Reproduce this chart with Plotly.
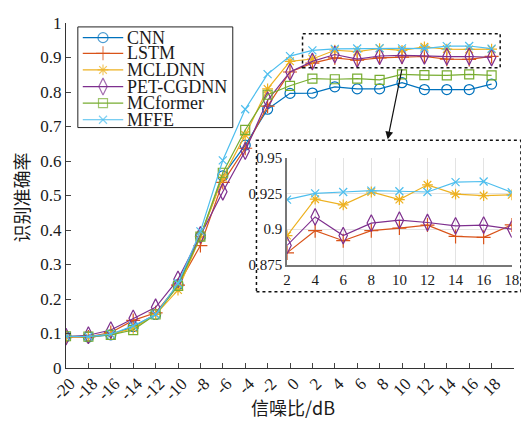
import plotly.graph_objects as go

snr = [-20, -18, -16, -14, -12, -10, -8, -6, -4, -2, 0, 2, 4, 6, 8, 10, 12, 14, 16, 18]

cnn = [0.091, 0.090, 0.096, 0.120, 0.155, 0.242, 0.381, 0.557, 0.646, 0.750, 0.796,
       0.797, 0.815, 0.809, 0.809, 0.827, 0.807, 0.807, 0.807, 0.823]
lstm = [0.090, 0.090, 0.103, 0.138, 0.160, 0.240, 0.355, 0.538, 0.637, 0.759, 0.858,
        0.8835, 0.899, 0.892, 0.899, 0.9008, 0.9029, 0.895, 0.8944, 0.903]
mcldnn = [0.090, 0.090, 0.098, 0.115, 0.155, 0.226, 0.381, 0.552, 0.675, 0.809, 0.889,
          0.8956, 0.921, 0.917, 0.926, 0.9207, 0.931, 0.9245, 0.9235, 0.924]
pet = [0.091, 0.095, 0.110, 0.144, 0.176, 0.257, 0.386, 0.511, 0.629, 0.776, 0.858,
       0.8887, 0.9086, 0.8956, 0.9043, 0.9063, 0.9047, 0.9024, 0.9029, 0.9001]
mcformer = [0.092, 0.091, 0.096, 0.110, 0.155, 0.238, 0.381, 0.566, 0.690, 0.792, 0.818,
            0.839, 0.837, 0.839, 0.835, 0.851, 0.849, 0.848, 0.851, 0.848]
mffe = [0.092, 0.091, 0.098, 0.122, 0.155, 0.245, 0.396, 0.602, 0.750, 0.852, 0.904,
        0.9207, 0.925, 0.926, 0.927, 0.9265, 0.926, 0.9329, 0.9333, 0.9258]

names = ["CNN", "LSTM", "MCLDNN", "PET-CGDNN", "MCformer", "MFFE"]
series = [cnn, lstm, mcldnn, pet, mcformer, mffe]
colors = ["#0072BD", "#D95319", "#EDB120", "#7E2F8E", "#77AC30", "#4DBEEE"]
symbols = ["circle-open", "cross-thin-open", "asterisk-open", "diamond-tall-open",
           "square-open", "x-thin-open"]
sizes = [10, 10, 9, 12, 9, 8]

main_xticks = list(range(-20, 20, 2))
main_xticklabels = [str(v) for v in main_xticks]
main_yticks = [0, 0.1, 0.2, 0.3, 0.4, 0.5, 0.6, 0.7, 0.8, 0.9, 1]
main_yticklabels = ["0", "0.1", "0.2", "0.3", "0.4", "0.5", "0.6", "0.7", "0.8", "0.9", "1"]
inset_xticks = [2, 4, 6, 8, 10, 12, 14, 16, 18]
inset_yticks = [0.875, 0.9, 0.925, 0.95]
inset_yticklabels = ["0.875", "0.9", "0.925", "0.95"]
inset_names = ["LSTM", "MCLDNN", "PET-CGDNN", "MFFE"]

serif = "Times New Roman, Liberation Serif, serif"
cjk = "Noto Sans CJK SC"
ink = "#1a1a1a"

# page geometry (pixels); the page body has an 8px default margin
BODY = 8
W, H = 529 - BODY, 423 - BODY
PL, PR, PT, PB = 66, 520, 15, 368          # plot area edges in window pixels
L, R, T, B = PL - BODY, (W + BODY) - PR, PT - BODY, (H + BODY) - PB
PW, PH = PR - PL, PB - PT


def px(x):
    return (x - PL) / PW


def py(y):
    return (PB - y) / PH


fig = go.Figure()
for n, s, c, m, sz in zip(names, series, colors, symbols, sizes):
    fig.add_trace(go.Scatter(
        x=snr, y=s, name=n, mode="lines+markers", showlegend=False,
        line=dict(color=c, width=1.2),
        marker=dict(symbol=m, size=sz, color=c, line=dict(color=c, width=1.2)),
        xaxis="x", yaxis="y"))

i0 = snr.index(2)
for n, s, c, m, sz in zip(names, series, colors, symbols, sizes):
    if n not in inset_names:
        continue
    fig.add_trace(go.Scatter(
        x=snr[i0:], y=s[i0:], name=n, mode="lines+markers", showlegend=False,
        line=dict(color=c, width=1.2),
        marker=dict(symbol=m, size=sz, color=c, line=dict(color=c, width=1.2)),
        xaxis="x2", yaxis="y2"))

# legend drawn in a pixel-unit helper axis
leg_box = (78, 235, 19, 122)
leg_rows = [30, 46, 63, 80, 97, 114]
leg_line = (83, 124)
leg_text_x = 126
for n, c, m, sz, ry in zip(names, colors, symbols, sizes, leg_rows):
    fig.add_trace(go.Scatter(
        x=[leg_line[0], (leg_line[0] + leg_line[1]) / 2, leg_line[1]], y=[ry, ry, ry],
        mode="lines+markers", showlegend=False, hoverinfo="skip",
        line=dict(color=c, width=1.2),
        marker=dict(symbol=m, size=[0, sz, 0], color=c, line=dict(color=c, width=1.2)),
        xaxis="x3", yaxis="y3", cliponaxis=False))
    fig.add_annotation(x=leg_text_x, y=ry, xref="x3", yref="y3", text=n, showarrow=False,
                       xanchor="left", yanchor="middle",
                       font=dict(family=serif, size=18, color=ink))

fig.update_layout(
    width=W, height=H,
    margin=dict(l=L, r=R, t=T, b=B, pad=0),
    paper_bgcolor="white", plot_bgcolor="rgba(0,0,0,0)",
    font=dict(family=serif, size=17, color=ink),
    showlegend=False,
    xaxis=dict(range=[-20, 20], tickvals=main_xticks, ticktext=main_xticklabels,
               ticks="inside", ticklen=5,
               tickangle=-45, ticklabelshift=4, ticklabelstandoff=-2,
               showline=True, linecolor="#333", linewidth=1,
               showgrid=False, zeroline=False, domain=[0, 1],
               tickfont=dict(family=serif, size=17, color=ink)),
    yaxis=dict(range=[0, 1], tickvals=main_yticks, ticktext=main_yticklabels,
               ticks="inside", ticklen=5, showline=True, linecolor="#333", linewidth=1,
               showgrid=False, zeroline=False, domain=[0, 1],
               tickfont=dict(family=serif, size=17, color=ink)),
    xaxis2=dict(range=[2, 18], tickvals=inset_xticks, anchor="y2",
                domain=[px(290), px(517.7)], ticks="", showline=True, linecolor="#777",
                linewidth=1.5, showgrid=True, gridcolor="#e3e3e3", gridwidth=1,
                zeroline=False, tickfont=dict(family=serif, size=15, color=ink)),
    yaxis2=dict(range=[0.875, 0.95], tickvals=inset_yticks, ticktext=inset_yticklabels,
                anchor="x2", domain=[py(262.7), py(152.7)], ticks="", showline=True,
                linecolor="#777", linewidth=1.5, showgrid=True, gridcolor="#e3e3e3",
                gridwidth=1, zeroline=False,
                tickfont=dict(family=serif, size=15, color=ink)),
    xaxis3=dict(range=[PL, PR], domain=[0, 1], anchor="y3", visible=False,
                fixedrange=True),
    yaxis3=dict(range=[PB, PT], domain=[0, 1], anchor="x3", visible=False,
                fixedrange=True),
)

# axis titles
fig.add_annotation(x=px(296), y=py(408), xref="paper", yref="paper", text="信噪比/dB",
                   showarrow=False, xanchor="center", yanchor="middle",
                   font=dict(family=cjk, size=18, color=ink))
fig.add_annotation(x=px(20), y=py(194), xref="paper", yref="paper", text="识别准确率",
                   showarrow=False, xanchor="center", yanchor="middle", textangle=-90,
                   font=dict(family=cjk, size=18, color=ink))

# legend frame
fig.add_shape(type="rect", xref="paper", yref="paper",
              x0=px(leg_box[0]), x1=px(leg_box[1]), y0=py(leg_box[3]), y1=py(leg_box[2]),
              line=dict(color="#222", width=1), fillcolor="white", layer="below")
# dotted zoom box in main plot
fig.add_shape(type="rect", xref="paper", yref="paper",
              x0=px(305.7), x1=px(506), y0=py(60.7), y1=py(26),
              line=dict(color="#111", width=1.5, dash="dot"), layer="above")
# dotted frame around inset
fig.add_shape(type="rect", xref="paper", yref="paper",
              x0=px(259), x1=px(527), y0=py(290), y1=py(135),
              line=dict(color="#111", width=1.5, dash="dot"), layer="below",
              fillcolor="white")
# arrow (helper pixel axis)
fig.add_annotation(x=392, y=134, ax=406.7, ay=61, xref="x3", yref="y3",
                   axref="x3", ayref="y3", showarrow=True, arrowhead=2, arrowsize=1.3,
                   arrowwidth=1.2, arrowcolor="#111", text="")

fig.write_html("out.html")
